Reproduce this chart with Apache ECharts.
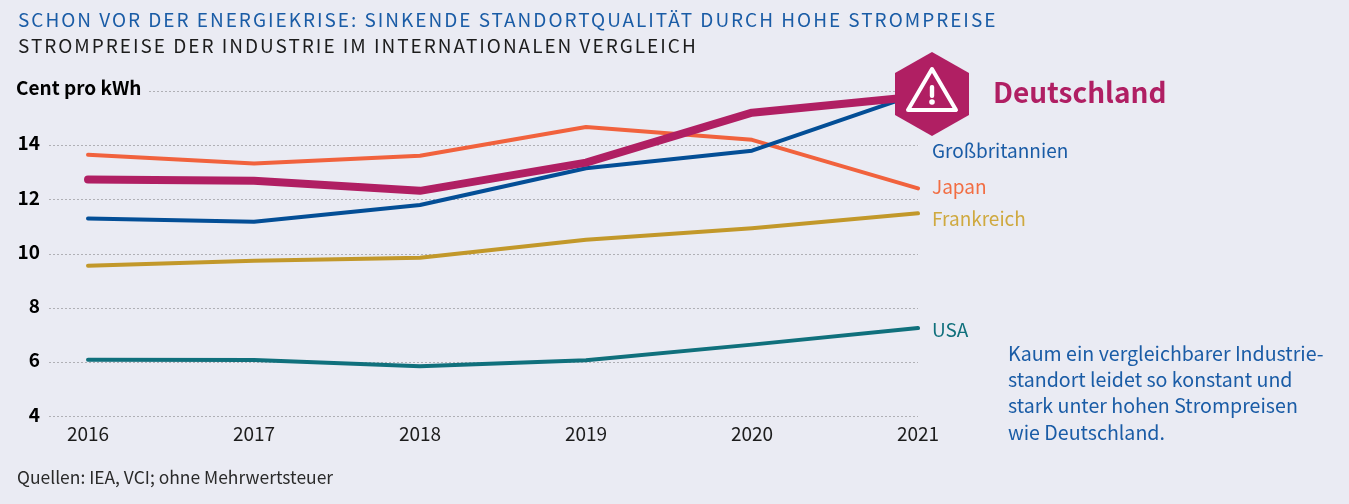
<!DOCTYPE html>
<html>
<head>
<meta charset="utf-8">
<title>Strompreise der Industrie</title>
<script src="https://cdn.jsdelivr.net/npm/echarts@6/dist/echarts.min.js"></script>
<style>
  html, body { margin: 0; padding: 0; background: #eaebf3; }
  #wrap { position: relative; width: 1349px; height: 504px; overflow: hidden; }
  #chart { width: 1349px; height: 504px; }
  .head { position: absolute; left: 18px; font-family: "Noto Sans CJK SC", sans-serif; font-size: 19px; line-height: 26px; letter-spacing: 1.98px; white-space: nowrap; }
</style>
</head>
<body>
<div id="wrap">
  <div id="chart"></div>
  <div class="head" style="top: 6px; color: #1a5ca6;">SCHON VOR DER ENERGIEKRISE: SINKENDE STANDORTQUALITÄT DURCH HOHE STROMPREISE</div>
  <div class="head" style="top: 32px; color: #1c1c1c;">STROMPREISE DER INDUSTRIE IM INTERNATIONALEN VERGLEICH</div>
</div>
<script>
const years = [2016, 2017, 2018, 2019, 2020, 2021]
const deutschland = [12.74, 12.69, 12.32, 13.36, 15.2, 15.8]
const grossbritannien = [11.3, 11.18, 11.8, 13.15, 13.8, 15.9]
const japan = [13.65, 13.33, 13.61, 14.67, 14.2, 12.41]
const frankreich = [9.56, 9.74, 9.85, 10.52, 10.94, 11.49]
const usa = [6.09, 6.08, 5.85, 6.07, 6.65, 7.26]
const note = 'Kaum ein vergleichbarer Industrie-\nstandort leidet so konstant und\nstark unter hohen Strompreisen\nwie Deutschland.'

const font = '"Noto Sans CJK SC", sans-serif'
const bg = '#eaebf3'

function line (name, values, color, textColor, width, offset, labelStyle) {
  return {
    name: name,
    type: 'line',
    data: values.map((v, i) => [years[i], v]),
    showSymbol: false,
    clip: false,
    silent: true,
    animation: false,
    lineStyle: { color: color, width: width, cap: 'round', join: 'round' },
    endLabel: Object.assign({
      show: true,
      formatter: name,
      color: textColor,
      fontFamily: font,
      fontSize: 19,
      distance: 0,
      offset: offset
    }, labelStyle)
  }
}

const chart = echarts.init(document.getElementById('chart'))
chart.setOption({
  backgroundColor: bg,
  animation: false,
  textStyle: { fontFamily: font },
  grid: { left: 49, right: 431, top: 91, bottom: 87.5 },
  xAxis: {
    type: 'value',
    min: 2015.765,
    max: 2021,
    splitLine: { show: false },
    axisLine: { show: false },
    axisTick: { show: false },
    axisLabel: {
      customValues: years,
      formatter: v => String(v),
      color: '#1c1c1c',
      fontFamily: font,
      fontSize: 19,
      margin: 8
    }
  },
  yAxis: {
    type: 'value',
    min: 4,
    max: 16,
    interval: 2,
    axisLine: { show: false },
    axisTick: { show: false },
    splitLine: { lineStyle: { color: '#b0b0b5', width: 1, type: [2, 2] } },
    axisLabel: {
      formatter: v => (v === 16 ? '' : String(v)),
      color: '#000',
      fontFamily: font,
      fontWeight: 'bold',
      fontSize: 19,
      margin: 9,
      verticalAlign: 'bottom',
      lineHeight: 4
    }
  },
  series: [
    line('USA', usa, '#10707c', '#10707c', 4, [14, 2]),
    line('Frankreich', frankreich, '#c2982a', '#cfa93f', 4, [14, 5]),
    line('Japan', japan, '#f1623d', '#f26d42', 4, [14, -2]),
    line('Großbritannien', grossbritannien, '#034e96', '#1a5ca6', 4, [14, 57]),
    line('Deutschland', deutschland, '#b01f63', '#b01f63', 8, [75, -4], { fontSize: 28, fontWeight: 'bold' })
  ],
  graphic: [
    {
      type: 'text',
      z: 50,
      left: 16,
      top: 76,
      style: {
        text: 'Cent pro kWh',
        fill: '#000',
        font: 'bold 19px ' + font,
        backgroundColor: bg,
        padding: [2, 7, 2, 0]
      }
    },
    {
      type: 'group',
      z: 50,
      x: 932,
      y: 94,
      children: [
        { type: 'polygon', z: 50, shape: { points: [[0, -42], [37, -21], [37, 21], [0, 42], [-37, 21], [-37, -21]] }, style: { fill: '#b01f63' } },
        { type: 'polygon', z: 51, shape: { points: [[0, -25], [24, 16], [-24, 16]] }, style: { fill: 'none', stroke: '#fff', lineWidth: 4, lineJoin: 'round' } },
        { type: 'rect', z: 51, shape: { x: -2.2, y: -9, width: 4.4, height: 13, r: 2 }, style: { fill: '#fff' } },
        { type: 'circle', z: 51, shape: { cx: 0, cy: 8, r: 2.8 }, style: { fill: '#fff' } }
      ]
    },
    {
      type: 'text',
      left: 1008,
      top: 340,
      style: { text: note, fill: '#1a5ca6', font: '19.6px ' + font, lineHeight: 26.4 }
    },
    {
      type: 'text',
      left: 17,
      top: 469,
      style: { text: 'Quellen: IEA, VCI; ohne Mehrwertsteuer', fill: '#2a2a2a', font: '17.45px ' + font }
    }
  ]
})
</script>
</body>
</html>
